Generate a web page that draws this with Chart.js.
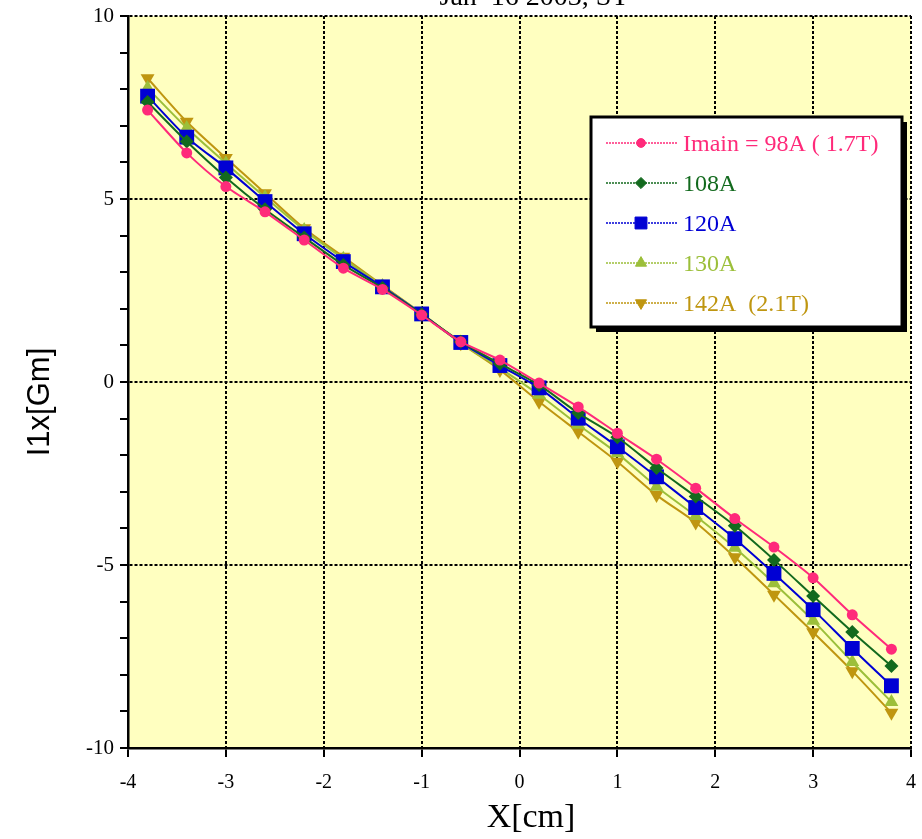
<!DOCTYPE html>
<html>
<head>
<meta charset="utf-8">
<title>I1x vs X</title>
<script src="https://cdn.jsdelivr.net/npm/chart.js@4.4.1/dist/chart.umd.min.js"></script>
<style>
    html, body { margin: 0; padding: 0; background: #fff; }
    #wrap { width: 922px; height: 839px; position: relative; }
</style>
</head>
<body>
<div id="wrap"><canvas id="graf"></canvas></div>
<script>
// positions along X [cm]
const posX = [-3.8, -3.4, -3.0, -2.6, -2.2, -1.8, -1.4, -1.0, -0.6, -0.2,
              0.2, 0.6, 1.0, 1.4, 1.8, 2.2, 2.6, 3.0, 3.4, 3.8];

// I1x [Gm] for each main current
const i98A  = [7.43, 6.26, 5.34, 4.65, 3.88, 3.11, 2.53, 1.83, 1.10, 0.60,
               -0.03, -0.68, -1.40, -2.11, -2.90, -3.73, -4.51, -5.35, -6.36, -7.30];
const i108A = [7.65, 6.57, 5.59, 4.72, 3.95, 3.20, 2.57, 1.85, 1.10, 0.50,
               -0.08, -0.85, -1.51, -2.35, -3.13, -3.93, -4.86, -5.85, -6.83, -7.76];
const i120A = [7.81, 6.69, 5.85, 4.93, 4.05, 3.29, 2.60, 1.86, 1.08, 0.45,
               -0.16, -0.99, -1.77, -2.59, -3.43, -4.28, -5.23, -6.22, -7.28, -8.30];
const i130A = [8.03, 6.94, 5.98, 5.05, 4.15, 3.37, 2.62, 1.87, 1.07, 0.38,
               -0.35, -1.17, -1.95, -2.86, -3.66, -4.53, -5.50, -6.52, -7.65, -8.74];
const i142A = [8.30, 7.11, 6.12, 5.16, 4.20, 3.42, 2.64, 1.87, 1.06, 0.33,
               -0.54, -1.36, -2.18, -3.09, -3.84, -4.79, -5.81, -6.84, -7.90, -9.04];

const seriesNames = ['Imain = 98A ( 1.7T)', '108A', '120A', '130A', '142A  (2.1T)'];
const xTicks = [-4, -3, -2, -1, 0, 1, 2, 3, 4];
const yTicks = [-10, -5, 0, 5, 10];

const chartTitle = 'Jan  16 2003, ST';
const xTitle = 'X[cm]';
const yTitle = 'I1x[Gm]';

const cores = ['#ff2a7a', '#136a1e', '#0000d4', '#9cbf3a', '#bf9610'];
const estilos = [
    { pointStyle: 'circle', radius: 5.5, rotation: 0 },
    { pointStyle: 'rectRot', radius: 7, rotation: 0 },
    { pointStyle: 'rect', radius: 10.5, rotation: 0 },
    { pointStyle: 'triangle', radius: 8, rotation: 0 },
    { pointStyle: 'triangle', radius: 8, rotation: 180 }
];
const valores = [i98A, i108A, i120A, i130A, i142A];

const serif = "'Liberation Serif', 'Times New Roman', serif";

function pares(ys) {
    return posX.map((x, i) => ({ x: x, y: ys[i] }));
}

// yellow plot background
const fundo = {
    id: 'fundo',
    beforeDraw(chart) {
        const { ctx, chartArea: a } = chart;
        ctx.save();
        ctx.fillStyle = '#ffffc0';
        ctx.fillRect(a.left, a.top, a.right - a.left, a.bottom - a.top);
        ctx.restore();
    }
};

// titles and the boxed legend
const textos = {
    id: 'textos',
    afterDraw(chart) {
        const { ctx } = chart;
        ctx.save();
        ctx.fillStyle = '#000';
        ctx.textAlign = 'center';

        ctx.font = '28px ' + serif;
        ctx.textBaseline = 'alphabetic';
        ctx.fillText(chartTitle, 534, 5);

        ctx.font = '34px ' + serif;
        ctx.textBaseline = 'middle';
        ctx.fillText(xTitle, 531, 818);

        ctx.save();
        ctx.translate(40, 402);
        ctx.rotate(-Math.PI / 2);
        ctx.font = "31px 'Liberation Sans', Arial, sans-serif";
        ctx.fillText(yTitle, 0, 0);
        ctx.restore();

        // legend box with shadow
        const bx = 591, by = 117, bw = 311, bh = 210;
        ctx.fillStyle = '#000';
        ctx.fillRect(bx + 5, by + 5, bw, bh);
        ctx.fillStyle = '#fff';
        ctx.fillRect(bx, by, bw, bh);
        ctx.lineWidth = 3;
        ctx.strokeStyle = '#000';
        ctx.strokeRect(bx, by, bw, bh);

        ctx.textAlign = 'left';
        ctx.font = '24px ' + serif;
        seriesNames.forEach((nome, i) => {
            const yy = by + 26 + i * 40;
            ctx.save();
            ctx.strokeStyle = cores[i];
            ctx.lineWidth = 1.5;
            ctx.setLineDash([2, 1]);
            ctx.beginPath();
            ctx.moveTo(bx + 15, yy);
            ctx.lineTo(bx + 86, yy);
            ctx.stroke();
            ctx.restore();
            const e = estilos[i];
            ctx.fillStyle = cores[i];
            ctx.strokeStyle = cores[i];
            ctx.lineWidth = 1;
            Chart.helpers.drawPoint(ctx, {
                pointStyle: e.pointStyle,
                radius: e.radius * 0.8,
                rotation: e.rotation,
                borderWidth: 1
            }, bx + 50, yy);
            ctx.fillText(nome, bx + 92, yy + 2);
        });
        ctx.restore();
    }
};

const ctx = document.getElementById('graf').getContext('2d');
const data = {
    datasets: valores.map((ys, i) => ({
        label: seriesNames[i],
        data: pares(ys),
        borderColor: cores[i],
        backgroundColor: cores[i],
        borderWidth: 2,
        tension: 0.25,
        pointStyle: estilos[i].pointStyle,
        pointRadius: estilos[i].radius,
        pointRotation: estilos[i].rotation,
        pointBorderWidth: 0,
        pointBackgroundColor: cores[i]
    }))
};

const config = {
    type: 'line',
    data: data,
    options: {
        responsive: true,
        maintainAspectRatio: false,
        animation: false,
        layout: { padding: { top: 16, right: 11, left: 0, bottom: 0 } },
        plugins: {
            legend: { display: false },
            tooltip: { enabled: false }
        },
        scales: {
            x: {
                type: 'linear',
                min: -4,
                max: 4,
                afterFit: function (scale) {
                    scale.height = 91;
                    scale.paddingRight = 0;
                    scale.paddingLeft = 0;
                },
                afterBuildTicks: function (scale) {
                    scale.ticks = xTicks.map(v => ({ value: v }));
                },
                grid: {
                    color: '#000',
                    lineWidth: 2,
                    tickLength: 9,
                    tickColor: '#000'
                },
                border: { display: true, color: '#000', width: 2.5, dash: [3, 2] },
                ticks: {
                    color: '#000',
                    padding: 14,
                    maxRotation: 0,
                    font: { family: serif, size: 20 }
                }
            },
            y: {
                type: 'linear',
                min: -10,
                max: 10,
                afterFit: function (scale) {
                    scale.width = 128;
                    scale.paddingTop = 0;
                    scale.paddingBottom = 0;
                },
                afterBuildTicks: function (scale) {
                    const t = [];
                    for (let v = -10; v <= 10; v++) t.push({ value: v });
                    scale.ticks = t;
                },
                grid: {
                    color: function (c) { return c.tick && c.tick.value % 5 === 0 ? '#000' : 'rgba(0,0,0,0)'; },
                    lineWidth: 2,
                    tickLength: 8,
                    tickColor: '#000'
                },
                border: { display: true, color: '#000', width: 2.5, dash: [3, 2] },
                ticks: {
                    color: '#000',
                    padding: 6,
                    autoSkip: false,
                    font: { family: serif, size: 21 },
                    callback: function (v) { return yTicks.includes(v) ? String(v) : ''; }
                }
            }
        }
    },
    plugins: [fundo, textos]
};

new Chart(ctx, config);
</script>
</body>
</html>
